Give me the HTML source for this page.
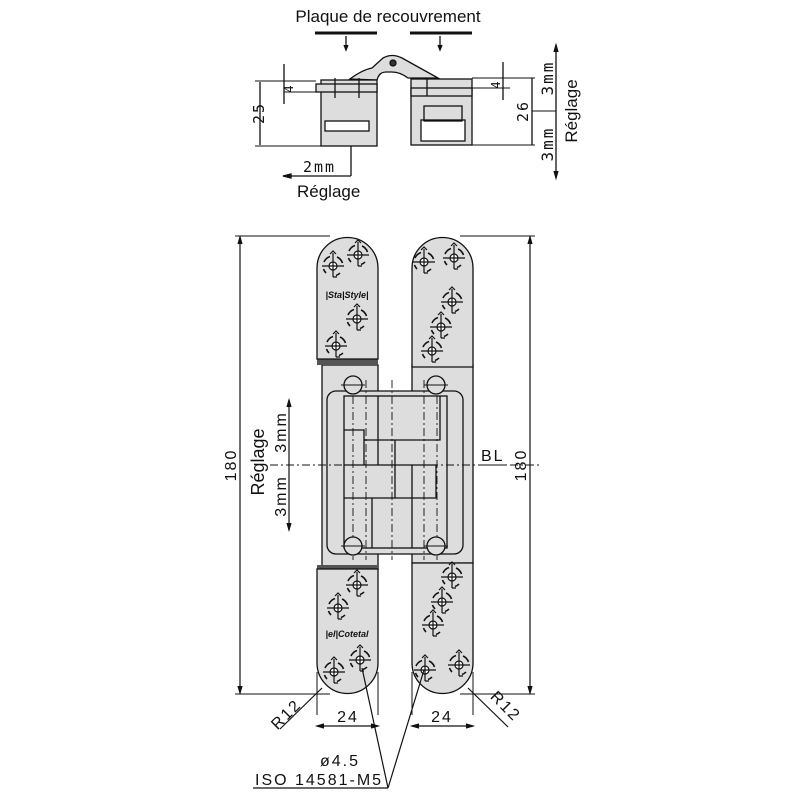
<!DOCTYPE html>
<html><head><meta charset="utf-8"><style>
body{margin:0;background:#fff}
svg{display:block}
text{font-family:"Liberation Sans",sans-serif;fill:#111}
.m{font-family:"DejaVu Sans Mono","Liberation Mono",monospace;letter-spacing:2px}
</style></head><body>
<svg width="800" height="800" viewBox="0 0 800 800" xmlns="http://www.w3.org/2000/svg">
<defs>
<g id="s" fill="none" stroke="#111" stroke-width="1.2">
<circle r="4" fill="#fff"/>
<line x1="-11" y1="0" x2="11" y2="0"/><line x1="0" y1="-13" x2="0" y2="11"/>
<path d="M-7,-7 A10,10 0 0 1 -3,-9.5 M7,-7 A10,10 0 0 1 9.5,-3 M7,7 A10,10 0 0 1 3,9.5 M-7,7 A10,10 0 0 1 -9.5,3 M-9,-4 A10,10 0 0 1 -7,-7 M4,-9 A10,10 0 0 1 7,-7" stroke-width="1.6"/>
<path d="M-3,-12 L0,-15 L3,-12 M0,11 L4,11"/>
</g>
</defs>
<g stroke="#111" stroke-width="1.3" fill="none">
<!-- TOP VIEW -->
<text x="388" y="22" font-size="17" text-anchor="middle" stroke="none">Plaque de recouvrement</text>
<line x1="315" y1="33" x2="377" y2="33" stroke-width="3"/>
<line x1="410" y1="33" x2="472" y2="33" stroke-width="3"/>
<line x1="346" y1="36" x2="346" y2="49"/><path d="M344,45 L346,50 L348,45" fill="#111"/>
<line x1="440" y1="36" x2="440" y2="49"/><path d="M438,45 L440,50 L442,45" fill="#111"/>
<path d="M350,79 Q362,70 372,68 L383,58 Q392,53 402,58 L438,78 L408,78 Q400,72 392,72 L386,72 Q379,72 377,80 Z" fill="#ddd"/>
<circle cx="393" cy="63" r="3" fill="#333"/>
<rect x="321" y="80" width="56" height="66" fill="#ddd"/>
<rect x="316" y="84" width="61" height="8" fill="#ddd"/>
<rect x="325" y="121" width="44" height="10" fill="#fff"/>
<rect x="411" y="79" width="61" height="66" fill="#ddd"/>
<rect x="411" y="88" width="61" height="8" fill="#ddd"/>
<rect x="421" y="120" width="44" height="21" fill="#fff"/>
<rect x="424" y="106" width="38" height="15"/>
<line x1="335" y1="78" x2="335" y2="98"/><line x1="359" y1="78" x2="359" y2="98"/><line x1="427" y1="78" x2="427" y2="96"/>
<!-- dims top -->
<line x1="255" y1="146" x2="321" y2="146" stroke-width="1"/>
<line x1="255" y1="81" x2="316" y2="81" stroke-width="1"/>
<line x1="260" y1="82" x2="260" y2="145"/>
<text x="0" y="0" font-size="15" stroke="none" class="m" transform="translate(264,113) rotate(-90)" text-anchor="middle">25</text>
<line x1="284" y1="92" x2="316" y2="92" stroke-width="1"/>
<line x1="284" y1="64" x2="284" y2="104"/>
<text font-size="12" stroke="none" class="m" transform="translate(293,88) rotate(-90)" text-anchor="middle">4</text>
<line x1="351" y1="146" x2="351" y2="176"/><line x1="283" y1="176" x2="351" y2="176"/>
<path d="M283,176 L291,174 L291,178 Z" fill="#111"/>
<text x="303" y="172" font-size="15" stroke="none" class="m">2mm</text>
<text x="297" y="197" font-size="17" stroke="none">Réglage</text>
<line x1="472" y1="78" x2="535" y2="78" stroke-width="1"/>
<line x1="472" y1="145" x2="535" y2="145" stroke-width="1"/>
<line x1="472" y1="88" x2="510" y2="88" stroke-width="1"/>
<line x1="503" y1="62" x2="503" y2="100"/>
<text font-size="12" stroke="none" class="m" transform="translate(500,84) rotate(-90)" text-anchor="middle">4</text>
<line x1="532" y1="78" x2="532" y2="145"/>
<text font-size="15" stroke="none" class="m" transform="translate(528,111) rotate(-90)" text-anchor="middle">26</text>
<line x1="532" y1="111" x2="556" y2="111" stroke-width="1"/>
<line x1="556" y1="45" x2="556" y2="178"/>
<path d="M554,52 L556,45 L558,52 M554,171 L556,178 L558,171" fill="#111"/>
<text font-size="16" stroke="none" class="m" transform="translate(553,78) rotate(-90)" text-anchor="middle">3mm</text>
<text font-size="16" stroke="none" class="m" transform="translate(553,144) rotate(-90)" text-anchor="middle">3mm</text>
<text font-size="17" stroke="none" transform="translate(577,111) rotate(-90)" text-anchor="middle">Réglage</text>

<!-- MAIN HINGE -->
<path d="M322,365 H378 V396 H412 V365 H473 V563 H412 V535 H378 V569 H322 Z" fill="#ddd"/>
<rect x="327" y="391" width="136" height="163" rx="9" fill="#ddd"/>
<rect x="344" y="396" width="103" height="152" fill="#ddd"/>
<path d="M344,430 H364 V440 H440 V396 M364,440 V465 M344,465 H436 V498 H372 V548 M344,498 H372 M378,396 V465 M395,440 V498 M412,465 V548" />
<g stroke-dasharray="8,3,2,3" stroke-width="0.9">
<line x1="353" y1="380" x2="353" y2="560"/><line x1="366" y1="380" x2="366" y2="560"/>
<line x1="392" y1="380" x2="392" y2="560"/><line x1="424" y1="380" x2="424" y2="560"/><line x1="437" y1="380" x2="437" y2="560"/>
<line x1="270" y1="465" x2="540" y2="465"/>
</g>
<rect x="317" y="359" width="61" height="6" fill="#555" stroke="none"/>
<path d="M317,359 V268 A30.5,30.5 0 0 1 378,268 V359 Z" fill="#ddd"/>
<path d="M412,367 V268 A30.5,30.5 0 0 1 473,268 V367 Z" fill="#ddd"/>
<rect x="317" y="565" width="61" height="4" fill="#555" stroke="none"/>
<path d="M317,569 H378 V663 A30.5,30.5 0 0 1 317,663 Z" fill="#ddd"/>
<path d="M412,563 H473 V663 A30.5,30.5 0 0 1 412,663 Z" fill="#ddd"/>
<circle cx="353" cy="385" r="9" fill="#ddd"/><circle cx="436" cy="385" r="9" fill="#ddd"/>
<circle cx="353" cy="546" r="9" fill="#ddd"/><circle cx="436" cy="546" r="9" fill="#ddd"/>
<line x1="341" y1="385" x2="365" y2="385" stroke-width="1"/><line x1="424" y1="385" x2="448" y2="385" stroke-width="1"/>
<line x1="341" y1="546" x2="365" y2="546" stroke-width="1"/><line x1="424" y1="546" x2="448" y2="546" stroke-width="1"/>
</g>
<use href="#s" x="333" y="266"/><use href="#s" x="358" y="255"/><use href="#s" x="357" y="319"/><use href="#s" x="336" y="346"/>
<use href="#s" x="424" y="262"/><use href="#s" x="454" y="258"/><use href="#s" x="452" y="302"/><use href="#s" x="441" y="327"/><use href="#s" x="432" y="351"/>
<use href="#s" x="357" y="585"/><use href="#s" x="338" y="608"/><use href="#s" x="334" y="672"/><use href="#s" x="360" y="660"/>
<use href="#s" x="452" y="577"/><use href="#s" x="442" y="602"/><use href="#s" x="433" y="625"/><use href="#s" x="425" y="670"/><use href="#s" x="459" y="665"/>
<text x="347" y="298" font-size="9" font-weight="bold" font-style="italic" text-anchor="middle">|Sta|Style|</text>
<text x="347" y="637" font-size="9" font-weight="bold" font-style="italic" text-anchor="middle">|el|Cotetal</text>
<g stroke="#111" stroke-width="1.2" fill="none">
<line x1="235" y1="236" x2="330" y2="236" stroke-width="1"/>
<line x1="235" y1="694" x2="330" y2="694" stroke-width="1"/>
<line x1="240" y1="237" x2="240" y2="693"/>
<path d="M238,244 L240,237 L242,244 M238,686 L240,693 L242,686" fill="#111"/>
<line x1="460" y1="236" x2="535" y2="236" stroke-width="1"/>
<line x1="460" y1="694" x2="535" y2="694" stroke-width="1"/>
<line x1="530" y1="237" x2="530" y2="693"/>
<path d="M528,244 L530,237 L532,244 M528,686 L530,693 L532,686" fill="#111"/>
<line x1="289" y1="400" x2="289" y2="530"/>
<path d="M287,407 L289,400 L291,407 M287,523 L289,530 L291,523" fill="#111"/>
<line x1="480" y1="465" x2="505" y2="465" stroke-width="1"/>
<line x1="317" y1="672" x2="317" y2="715" stroke-width="1"/><line x1="378" y1="672" x2="378" y2="715" stroke-width="1"/>
<line x1="317" y1="726" x2="378" y2="726"/>
<path d="M324,724 L317,726 L324,728 M371,724 L378,726 L371,728" fill="#111"/>
<line x1="412" y1="672" x2="412" y2="715" stroke-width="1"/><line x1="473" y1="672" x2="473" y2="715" stroke-width="1"/>
<line x1="412" y1="726" x2="473" y2="726"/>
<path d="M419,724 L412,726 L419,728 M466,724 L473,726 L466,728" fill="#111"/>
<line x1="280" y1="729" x2="322" y2="688"/>
<line x1="508" y1="727" x2="468" y2="688"/>
<line x1="253" y1="788" x2="388" y2="788"/>
<line x1="388" y1="788" x2="362" y2="668"/>
<line x1="388" y1="788" x2="424" y2="670"/>
</g>
<g class="m" font-size="16">
<text transform="translate(236,465) rotate(-90)" text-anchor="middle">180</text>
<text transform="translate(526,465) rotate(-90)" text-anchor="middle">180</text>
<text transform="translate(286,432) rotate(-90)" text-anchor="middle">3mm</text>
<text transform="translate(286,496) rotate(-90)" text-anchor="middle">3mm</text>
<text x="481" y="461">BL</text>
<text x="348" y="722" text-anchor="middle">24</text>
<text x="442" y="722" text-anchor="middle">24</text>
<text transform="translate(290,718) rotate(-45)" text-anchor="middle">R12</text>
<text transform="translate(502,710) rotate(45)" text-anchor="middle">R12</text>
<text x="340" y="766" text-anchor="middle">ø4.5</text>
<text x="255" y="785">ISO 14581-M5</text>
</g>
<text font-size="18" transform="translate(264,462) rotate(-90)" text-anchor="middle">Réglage</text>
</svg>
</body></html>
